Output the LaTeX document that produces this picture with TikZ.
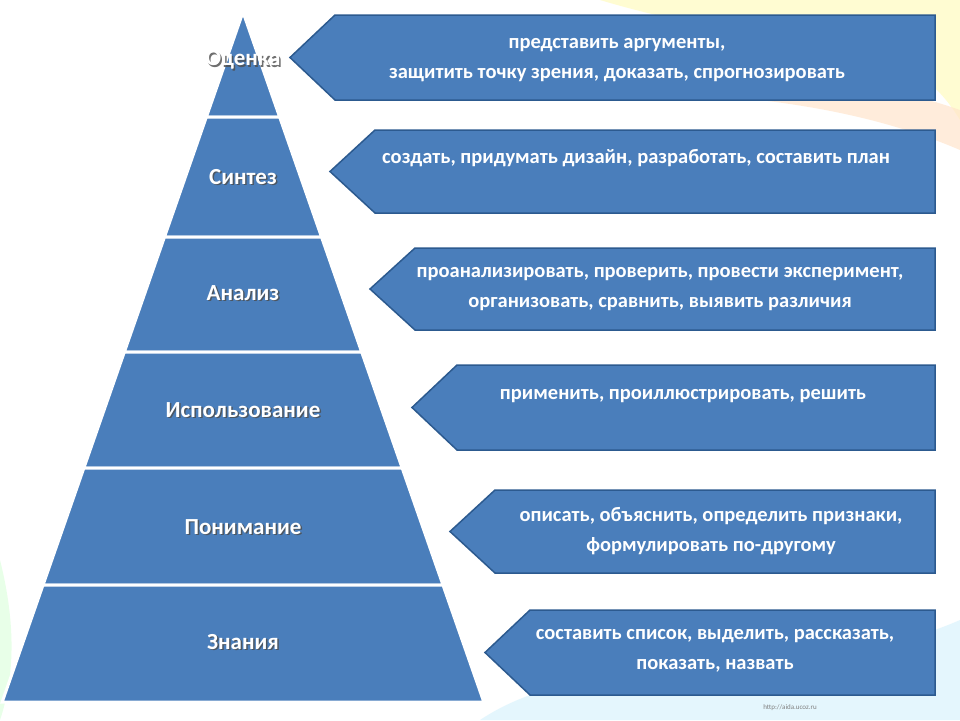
\documentclass[tikz,border=0pt]{standalone}
\usepackage{fontspec}
\setmainfont{Carlito}
\definecolor{bl}{HTML}{4A7EBB}
\definecolor{bd}{HTML}{2C5A8F}
\begin{document}
\begin{tikzpicture}[x=1pt,y=-1pt,
 tier/.style={fill=bl,draw=white,line width=3pt,line join=miter},
 lab/.style={font=\bfseries\fontsize{23}{24}\selectfont,text=white},
 box/.style={fill=bl,draw=bd,line width=1.5pt},
 btxt/.style={font=\bfseries\fontsize{20.5}{30}\selectfont,text=white,align=center}]
\useasboundingbox (0,0) rectangle (960,720);
\fill[white] (0,0) rectangle (960,720);
\fill[yellow!25,opacity=.7] (600,0) .. controls (800,60) and (900,20) .. (960,120) -- (960,0) -- cycle;
\fill[orange!20,opacity=.7] (300,60) .. controls (500,110) and (750,60) .. (960,150) -- (960,110) .. controls (760,40) and (500,90) .. (330,30) -- cycle;
\fill[cyan!15,opacity=.7] (480,720) .. controls (600,640) and (800,690) .. (960,620) -- (960,720) -- cycle;
\fill[green!15,opacity=.6] (0,560) .. controls (20,640) and (10,690) .. (0,720) -- cycle;
% pyramid
\def\hw#1{0.349*(#1-12)}
\foreach \t/\b/\n in {12/117/t1,117/237/t2,237/352/t3,352/468/t4,468/585/t5,585/702/t6}{
 \path[tier] ({243-\hw{\t}},\t) -- ({243+\hw{\t}},\t) -- ({243+\hw{\b}},\b) -- ({243-\hw{\b}},\b) -- cycle;
}
\foreach \y/\s/\n in {60/Оценка/p1,177/Синтез/p2,293/Анализ/p3,410/Использование/p4,527/Понимание/p5,642/Знания/p6}{
 \node[lab,text=black!70,opacity=.8] at (244.5,\y+1.5) {\s};
 \node[lab] (\n) at (243,\y) {\s};
}
% boxes
\foreach \tip/\t/\b/\n in {290/15/100/b1,330/130/213/b2,370/248/330/b3,412/365/450/b4,450/490/573/b5,485/610/695/b6}{
 \draw[box] (\tip,{(\t+\b)/2}) -- (\tip+45,\t) -- (935,\t) -- (935,\b) -- (\tip+45,\b) -- cycle;
 \coordinate (\n) at ({(\tip+45+935)/2},{(\t+\b)/2});
}
\node[btxt] at (617,60) {представить аргументы,\\защитить точку зрения, доказать, спрогнозировать};
\node[btxt] at (636,158) {создать, придумать дизайн, разработать, составить план};
\node[btxt] at (660,289) {проанализировать, проверить, провести эксперимент,\\организовать, сравнить, выявить различия};
\node[btxt] at (683,396) {применить, проиллюстрировать, решить};
\node[btxt] at (711,531) {описать, объяснить, определить признаки,\\формулировать по-другому};
\node[btxt] at (715,651) {составить список, выделить, рассказать,\\показать, назвать};
\node[font=\fontsize{7}{8}\selectfont,text=gray] at (790,708) {http://aida.ucoz.ru};
\end{tikzpicture}
\end{document}
